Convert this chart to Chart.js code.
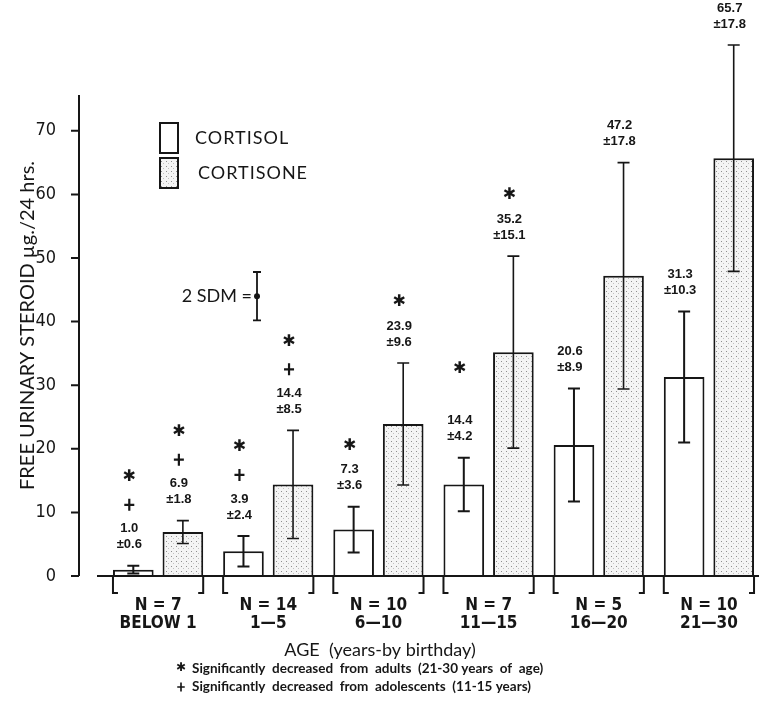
<!DOCTYPE html>
<html>
<head>
<meta charset="utf-8">
<script src="https://cdn.jsdelivr.net/npm/chart.js@4.4.1/dist/chart.umd.min.js"></script>
<style>
  html, body { margin: 0; padding: 0; background: #fff; overflow: hidden; }
  #chart { display: block; }
</style>
</head>
<body>
<canvas id="chart" width="764" height="708"></canvas>
<script>
// values
const ageGroups = ["BELOW 1", "1\u20145", "6\u201410", "11\u201415", "16\u201420", "21\u201430"];
const groupSizes = ["N = 7", "N = 14", "N = 10", "N = 7", "N = 5", "N = 10"];
const cortisol = [1.0, 3.9, 7.3, 14.4, 20.6, 31.3];
const cortisolSD = [0.6, 2.4, 3.6, 4.2, 8.9, 10.3];
const cortisone = [6.9, 14.4, 23.9, 35.2, 47.2, 65.7];
const cortisoneSD = [1.8, 8.5, 9.6, 15.1, 17.8, 17.8];
// significance marks above each bar, bottom to top ("" keeps an empty slot)
const cortisolMarks = [["+", "*"], ["+", "*"], ["*"], ["", "*"], [], []];
const cortisoneMarks = [["+", "*"], ["+", "*"], ["*"], ["*"], [], []];
const yTickValues = [0, 10, 20, 30, 40, 50, 60, 70];
const sdmCenter = 44;   // the "2 SDM" reference bar, in axis units
const sdmHalf = 3.8;

const INK = "#161616";
const NARROW = '"Liberation Sans Narrow", "DejaVu Sans Condensed", sans-serif';
const GEO = 'Lato, "Open Sans", sans-serif';

function stipple() {
  const c = document.createElement("canvas");
  c.width = 5; c.height = 5;
  const g = c.getContext("2d");
  g.fillStyle = "#f4f4f4"; g.fillRect(0, 0, 5, 5);
  g.fillStyle = "#8e8e8e"; g.fillRect(1, 1, 1, 1);
  g.fillStyle = "#c0c0c0"; g.fillRect(3, 3, 1, 1);
  return g.createPattern(c, "repeat");
}

function drawMark(ctx, m, x, y, size) {
  const k = size || 1;
  if (m === "*") {
    ctx.font = "bold " + Math.round(16 * k) + "px 'DejaVu Sans', sans-serif";
    ctx.textAlign = "center";
    ctx.fillText("\u2731", x, y);
  } else if (m === "+") {
    ctx.lineWidth = 2.2 * k;
    ctx.beginPath();
    ctx.moveTo(x - 5 * k, y); ctx.lineTo(x + 5 * k, y);
    ctx.moveTo(x, y - 6 * k); ctx.lineTo(x, y + 6 * k);
    ctx.stroke();
  }
}

const decor = {
  id: "decor",
  afterDatasetsDraw(chart) {
    const { ctx, chartArea, scales: { x, y } } = chart;
    const base = y.getPixelForValue(0);
    ctx.save();
    ctx.strokeStyle = INK;
    ctx.fillStyle = INK;
    ctx.textAlign = "center";
    ctx.textBaseline = "middle";

    // error bars, values and marks
    chart.data.datasets.forEach((ds, d) => {
      chart.getDatasetMeta(d).data.forEach((bar, i) => {
        const v = ds.data[i], e = ds.sd[i];
        const top = y.getPixelForValue(v + e);
        const bot = y.getPixelForValue(v - e);
        ctx.lineWidth = d === 0 ? 2 : 1.6;
        ctx.beginPath();
        ctx.moveTo(bar.x, top); ctx.lineTo(bar.x, bot);
        ctx.moveTo(bar.x - 6, top); ctx.lineTo(bar.x + 6, top);
        ctx.moveTo(bar.x - 6, bot); ctx.lineTo(bar.x + 6, bot);
        ctx.stroke();

        const lx = bar.x - 4;
        ctx.textAlign = "center";
        ctx.font = "bold 13px 'Liberation Sans', sans-serif";
        ctx.fillText("\u00b1" + e.toFixed(1), lx, top - 21);
        ctx.fillText(v.toFixed(1), lx, top - 37);
        let my = top - 37 - 24;
        ds.marks[i].forEach(m => {
          if (m) drawMark(ctx, m, lx, my);
          my -= 28;
        });
      });
    });

    // baseline and group brackets
    ctx.lineWidth = 2;
    ctx.beginPath();
    ctx.moveTo(97, base); ctx.lineTo(chart.width, base);
    const m0 = chart.getDatasetMeta(0).data, m1 = chart.getDatasetMeta(1).data;
    m0.forEach((b, i) => {
      const l = b.x - b.width / 2, r = m1[i].x + m1[i].width / 2;
      ctx.moveTo(l + 5, base + 17); ctx.lineTo(l, base + 17); ctx.lineTo(l, base);
      ctx.moveTo(r - 5, base + 17); ctx.lineTo(r, base + 17); ctx.lineTo(r, base);
    });
    ctx.stroke();

    // y axis line with ticks
    ctx.beginPath();
    ctx.moveTo(79, chartArea.top - 4); ctx.lineTo(79, base);
    y.ticks.forEach(t => {
      const py = y.getPixelForValue(t.value);
      ctx.moveTo(71, py); ctx.lineTo(79, py);
    });
    ctx.stroke();

    // legend
    chart.data.datasets.forEach((ds, d) => {
      const by = 123 + d * 35;
      ctx.fillStyle = ds.backgroundColor;
      ctx.fillRect(160, by, 18, 30);
      ctx.lineWidth = 2;
      ctx.strokeRect(160, by, 18, 30);
      ctx.fillStyle = INK;
      ctx.font = "18px " + GEO;
      ctx.letterSpacing = "1px";
      ctx.textAlign = "left";
      ctx.fillText(ds.label, 195 + d * 3, by + 15);
      ctx.letterSpacing = "0px";
    });

    // 2 SDM reference bar
    const sx = 257;
    const st = y.getPixelForValue(sdmCenter + sdmHalf);
    const sb = y.getPixelForValue(sdmCenter - sdmHalf);
    const sc = y.getPixelForValue(sdmCenter);
    ctx.font = "18px " + GEO;
    ctx.textAlign = "right";
    ctx.fillText("2 SDM =", sx - 5, sc);
    ctx.lineWidth = 1.8;
    ctx.beginPath();
    ctx.moveTo(sx, st); ctx.lineTo(sx, sb);
    ctx.moveTo(sx - 4, st); ctx.lineTo(sx + 4, st);
    ctx.moveTo(sx - 4, sb); ctx.lineTo(sx + 4, sb);
    ctx.stroke();
    ctx.beginPath();
    ctx.arc(sx, sc, 3, 0, Math.PI * 2);
    ctx.fill();

    // axis titles
    ctx.textAlign = "center";
    ctx.font = "18px " + GEO;
    ctx.fillText("AGE  (years-by birthday)", 380, 650);
    ctx.save();
    ctx.translate(28, 490);
    ctx.rotate(-Math.PI / 2);
    ctx.textAlign = "left";
    ctx.font = "20px " + GEO;
    ctx.fillText("FREE URINARY STEROID \u00b5g./24 hrs.", 0, 0);
    ctx.restore();

    // footnotes
    ctx.textAlign = "left";
    ctx.font = "bold 13.5px " + GEO;
    ctx.fillText("Significantly  decreased  from  adults  (21-30 years  of  age)", 192, 669);
    ctx.fillText("Significantly  decreased  from  adolescents  (11-15 years)", 192, 687);
    drawMark(ctx, "*", 181, 668, 0.75);
    drawMark(ctx, "+", 181, 687, 0.75);
    ctx.restore();
  }
};

const ctx = document.getElementById("chart").getContext("2d");

new Chart(ctx, {
  type: "bar",
  data: {
    labels: ageGroups.map((g, i) => [groupSizes[i], g]),
    datasets: [
      {
        label: "CORTISOL",
        data: cortisol,
        sd: cortisolSD,
        marks: cortisolMarks,
        backgroundColor: "#ffffff",
        borderColor: INK,
        borderWidth: 2,
      },
      {
        label: "CORTISONE",
        data: cortisone,
        sd: cortisoneSD,
        marks: cortisoneMarks,
        backgroundColor: stipple(),
        borderColor: INK,
        borderWidth: 2,
      },
    ],
  },
  options: {
    responsive: false,
    animation: false,
    layout: { padding: { top: 99, left: 0, right: 0, bottom: 0 } },
    datasets: { bar: { categoryPercentage: 0.9, barPercentage: 0.82 } },
    plugins: { legend: { display: false }, tooltip: { enabled: false } },
    scales: {
      x: {
        grid: { display: false },
        border: { display: false },
        ticks: {
          color: INK,
          padding: 12,
          maxRotation: 0,
          autoSkip: false,
          font: { family: NARROW, size: 17, weight: "bold", lineHeight: 1.08 },
        },
        afterFit: (s) => { s.height = 132; },
      },
      y: {
        min: 0,
        max: 75,
        grid: { display: false },
        border: { display: false },
        afterBuildTicks: (s) => { s.ticks = yTickValues.map(v => ({ value: v })); },
        ticks: {
          color: INK,
          padding: 39,
          font: { family: NARROW, size: 18 },
        },
        afterFit: (s) => { s.width = 103; },
      },
    },
  },
  plugins: [decor],
});
</script>
</body>
</html>
